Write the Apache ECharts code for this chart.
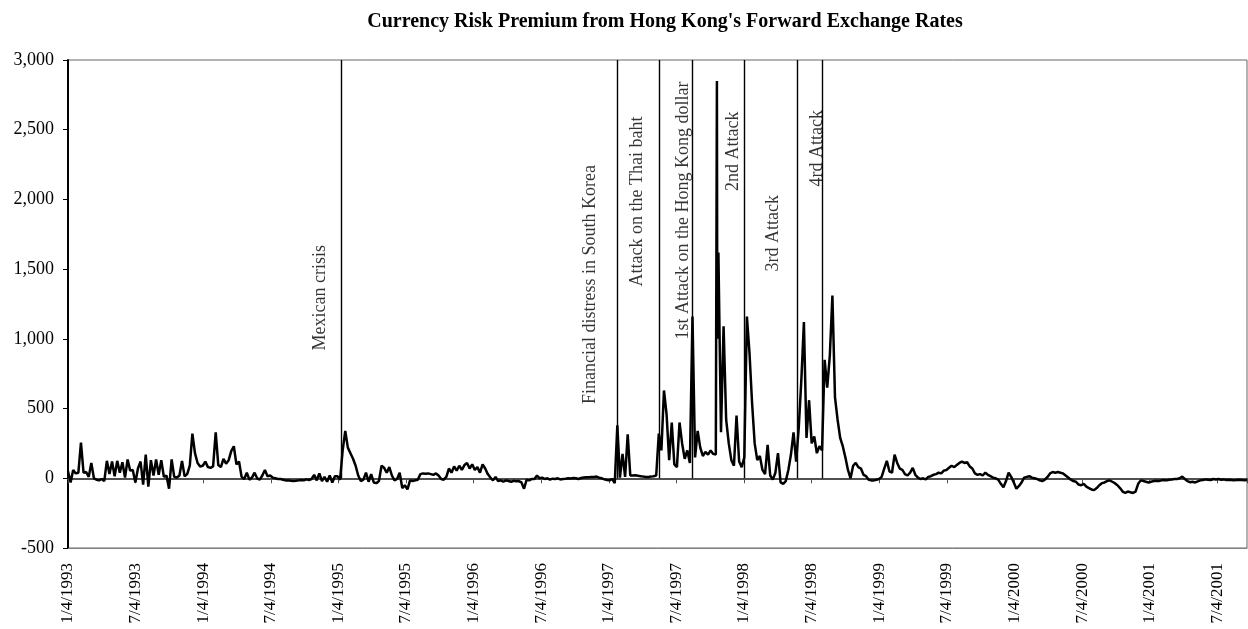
<!DOCTYPE html>
<html lang="en">
<head>
<meta charset="UTF-8" />
<title>Currency Risk Premium from Hong Kong's Forward Exchange Rates</title>
<script src="https://cdn.jsdelivr.net/npm/echarts@6/dist/echarts.min.js"></script>
<style>
  html, body { margin: 0; background: #fff; }
  #main { width: 1248px; height: 629px; }
</style>
</head>
<body>
<div id="main"></div>
<script>
// weekly readings (every Monday), first one on 1993-01-04
var firstWeek = "1993-01-04";
var lastDay = "2001-09-24";

var prem1993 = [50, -30, 60, 35, 40, 255, 40, 45, 10, 110, 0, -10, -15, -5, -20, 125, 30, 120, 15, 125,
  40, 115, 5, 135, 55, 60, -30, 70, 120, -45, 170, -60, 130, 20, 135, 25, 130, 10, 20, -75,
  135, 10, 5, 20, 125, 15, 30, 90, 320, 180, 110, 85];
var prem1994 = [90, 120, 80, 75, 85, 330, 95, 80, 140, 105, 130, 195, 230, 100, 120, 10, -5, 40, -10, 5,
  40, 0, -10, 20, 60, 15, 20, 5, 0, -5, -5, -10, -15, -15, -18, -20, -18, -15, -12, -15,
  -8, -12, -5, 25, -15, 35, -20, 10, -25, 20, -30, 15];
var prem1995 = [15, -10, 200, 340, 220, 180, 140, 90, 20, -20, -10, 40, -25, 30, -30, -35, -20, 90, 75, 40,
  80, 20, -15, -5, 40, -70, -50, -80, -15, -20, -15, -10, 30, 35, 32, 35, 30, 25, 35, 20,
  -5, -10, 10, 70, 40, 85, 55, 90, 60, 95, 110, 70];
var prem1996 = [100, 60, 80, 40, 100, 70, 30, 5, -15, 10, -20, -15, -25, -15, -20, -25, -18, -22, -20, -30,
  -75, -10, -15, -5, -5, 20, 0, 5, -5, 0, -10, -3, -5, 0, -8, -5, -3, 0, -2, 2,
  0, -5, 2, 5, 8, 8, 10, 10, 12, 5, 0, -8, -12];
var prem1997 = [-15, -5, -35, 380, 5, 175, 10, 315, 20, 20, 22, 18, 15, 12, 10, 10, 12, 15, 20, 320,
  200, 630, 460, 130, 400, 100, 80, 400, 250, 140, 200, 110, 1160, 150, 340, 220, 160, 190, 170, 200,
  175, 170, 1620, 330, 1090, 420, 250, 130, 90, 450, 120, 80];
var prem1998 = [150, 1160, 900, 540, 250, 130, 160, 60, 30, 240, 20, -10, 40, 180, -30, -40, -20, 60, 170, 330,
  120, 360, 700, 1120, 290, 560, 250, 300, 180, 230, 200, 850, 650, 880, 1310, 580, 420, 290, 230, 150,
  60, 0, 90, 110, 80, 70, 25, 15, -10, -15, -15, -10];
var prem1999 = [-5, 10, 70, 125, 50, 40, 170, 110, 70, 60, 30, 20, 40, 75, 25, 5, -5, 0, -8, 10,
  15, 25, 30, 40, 35, 55, 60, 75, 90, 80, 95, 110, 120, 110, 115, 85, 70, 35, 25, 30,
  20, 40, 25, 15, 5, 0, -10, -40, -65, -20, 40, 10];
var prem2000 = [-30, -75, -55, -30, 5, 10, 15, 5, 0, -5, -15, -20, -10, 10, 35, 45, 40, 45, 40, 35,
  20, 5, -10, -20, -25, -45, -50, -40, -60, -70, -80, -85, -70, -50, -35, -30, -20, -15, -25, -35,
  -50, -70, -95, -105, -95, -100, -105, -95, -40, -15, -20, -25];
var prem2001 = [-30, -25, -20, -18, -20, -15, -12, -15, -10, -8, -5, -5, 0, 12, -5, -20, -28, -25, -30, -22,
  -15, -12, -8, -10, -12, -5, -8, -5, -10, -8, -12, -10, -12, -15, -12, -10, -12, -15, -12];

// single days that the weekly readings miss
var spikeDates = ["1997-10-23", "1997-10-24"];
var spikeValues = [2850, 1000];

var tickLabels = ["1/4/1993", "7/4/1993", "1/4/1994", "7/4/1994", "1/4/1995", "7/4/1995",
  "1/4/1996", "7/4/1996", "1/4/1997", "7/4/1997", "1/4/1998", "7/4/1998",
  "1/4/1999", "7/4/1999", "1/4/2000", "7/4/2000", "1/4/2001", "7/4/2001"];

var eventNames = ["Mexican crisis", "Financial distress in South Korea", "Attack on the Thai baht",
  "1st Attack on the Hong Kong dollar", "2nd Attack", "3rd Attack", "4rd Attack"];
var eventDates = ["1995-01-11", "1997-01-28", "1997-05-19", "1997-08-18", "1998-01-06", "1998-05-28", "1998-08-04"];

// where each event label sits: top end (value units) and shift left of its line (px)
var labelTop = [1673, 2247, 2594, 2845, 2630, 2032, 2642];
var labelShift = [-21, -27, -22, -9, -11, -24, -5];

var DAYS_PER_MONTH = 30.4375;
var T0 = Date.parse(firstWeek + "T00:00:00Z");
function monthsSince(d) {
  return (Date.parse(d + "T00:00:00Z") - T0) / 864e5 / DAYS_PER_MONTH;
}

var weekly = [].concat(prem1993, prem1994, prem1995, prem1996, prem1997, prem1998, prem1999, prem2000, prem2001);
var points = weekly.map(function (v, i) { return [i * 7 / DAYS_PER_MONTH, v]; });
spikeDates.forEach(function (d, k) { points.push([monthsSince(d), spikeValues[k]]); });
points.sort(function (a, b) { return a[0] - b[0]; });

var xMax = monthsSince(lastDay);
var serif = "'Liberation Serif', 'Times New Roman', serif";

var chart = echarts.init(document.getElementById("main"));

var option = {
  animation: false,
  backgroundColor: "#fff",
  graphic: [{
    type: "text",
    x: 665,
    y: 22,
    style: {
      text: "Currency Risk Premium from Hong Kong's Forward Exchange Rates",
      font: "bold 20px " + serif,
      fill: "#000",
      textAlign: "center",
      textVerticalAlign: "middle"
    }
  }],
  grid: {
    left: 68, right: 1, top: 60, bottom: 81,
    show: true, borderColor: "#666", borderWidth: 1,
    containLabel: false, outerBoundsMode: "none"
  },
  xAxis: [{
    type: "value",
    min: 0, max: xMax, interval: 6,
    axisLine: { onZero: false, lineStyle: { color: "#808080", width: 1 } },
    axisTick: { show: false },
    splitLine: { show: false },
    axisLabel: {
      rotate: 90, margin: 15, fontFamily: serif, fontSize: 17, color: "#000",
      showMaxLabel: false,
      formatter: function (v) {
        var k = v / 6;
        if (Math.abs(k - Math.round(k)) > 0.001) return "";
        return tickLabels[Math.round(k)] || "";
      }
    }
  }, {
    // the zero line with its ticks
    type: "value",
    position: "bottom",
    min: 0, max: xMax, interval: 6,
    axisLine: { onZero: true, lineStyle: { color: "#505050", width: 2 } },
    axisTick: { show: true, inside: false, length: 5, lineStyle: { color: "#505050", width: 1 } },
    axisLabel: { show: false },
    splitLine: { show: false }
  }],
  yAxis: {
    type: "value",
    min: -500, max: 3000, interval: 500,
    axisLine: { show: true, lineStyle: { color: "#000", width: 2 } },
    axisTick: { show: true, inside: false, length: 5, lineStyle: { color: "#000", width: 1 } },
    splitLine: { show: false },
    axisLabel: {
      margin: 14, fontFamily: serif, fontSize: 18, color: "#000",
      formatter: function (v) { return v.toLocaleString("en-US"); }
    }
  },
  series: [{
    type: "line",
    data: points,
    showSymbol: false,
    lineStyle: { color: "#000", width: 2.5 },
    z: 3,
    markLine: {
      silent: true,
      symbol: ["none", "none"],
      lineStyle: { color: "#000", width: 1.4, type: "solid" },
      label: { show: false },
      data: eventDates.map(function (d) {
        var x = monthsSince(d);
        return [{ coord: [x, 0] }, { coord: [x, 3000] }];
      })
    }
  }, {
    type: "scatter",
    symbolSize: 0,
    silent: true,
    z: 4,
    data: eventDates.map(function (d, k) {
      return { value: [monthsSince(d), labelTop[k]], label: { position: [labelShift[k], 0] } };
    }),
    label: {
      show: true, rotate: 90, align: "right", verticalAlign: "middle",
      fontFamily: serif, fontSize: 18, color: "#000",
      formatter: function (p) { return eventNames[p.dataIndex]; }
    }
  }]
};

chart.setOption(option);
</script>
</body>
</html>
